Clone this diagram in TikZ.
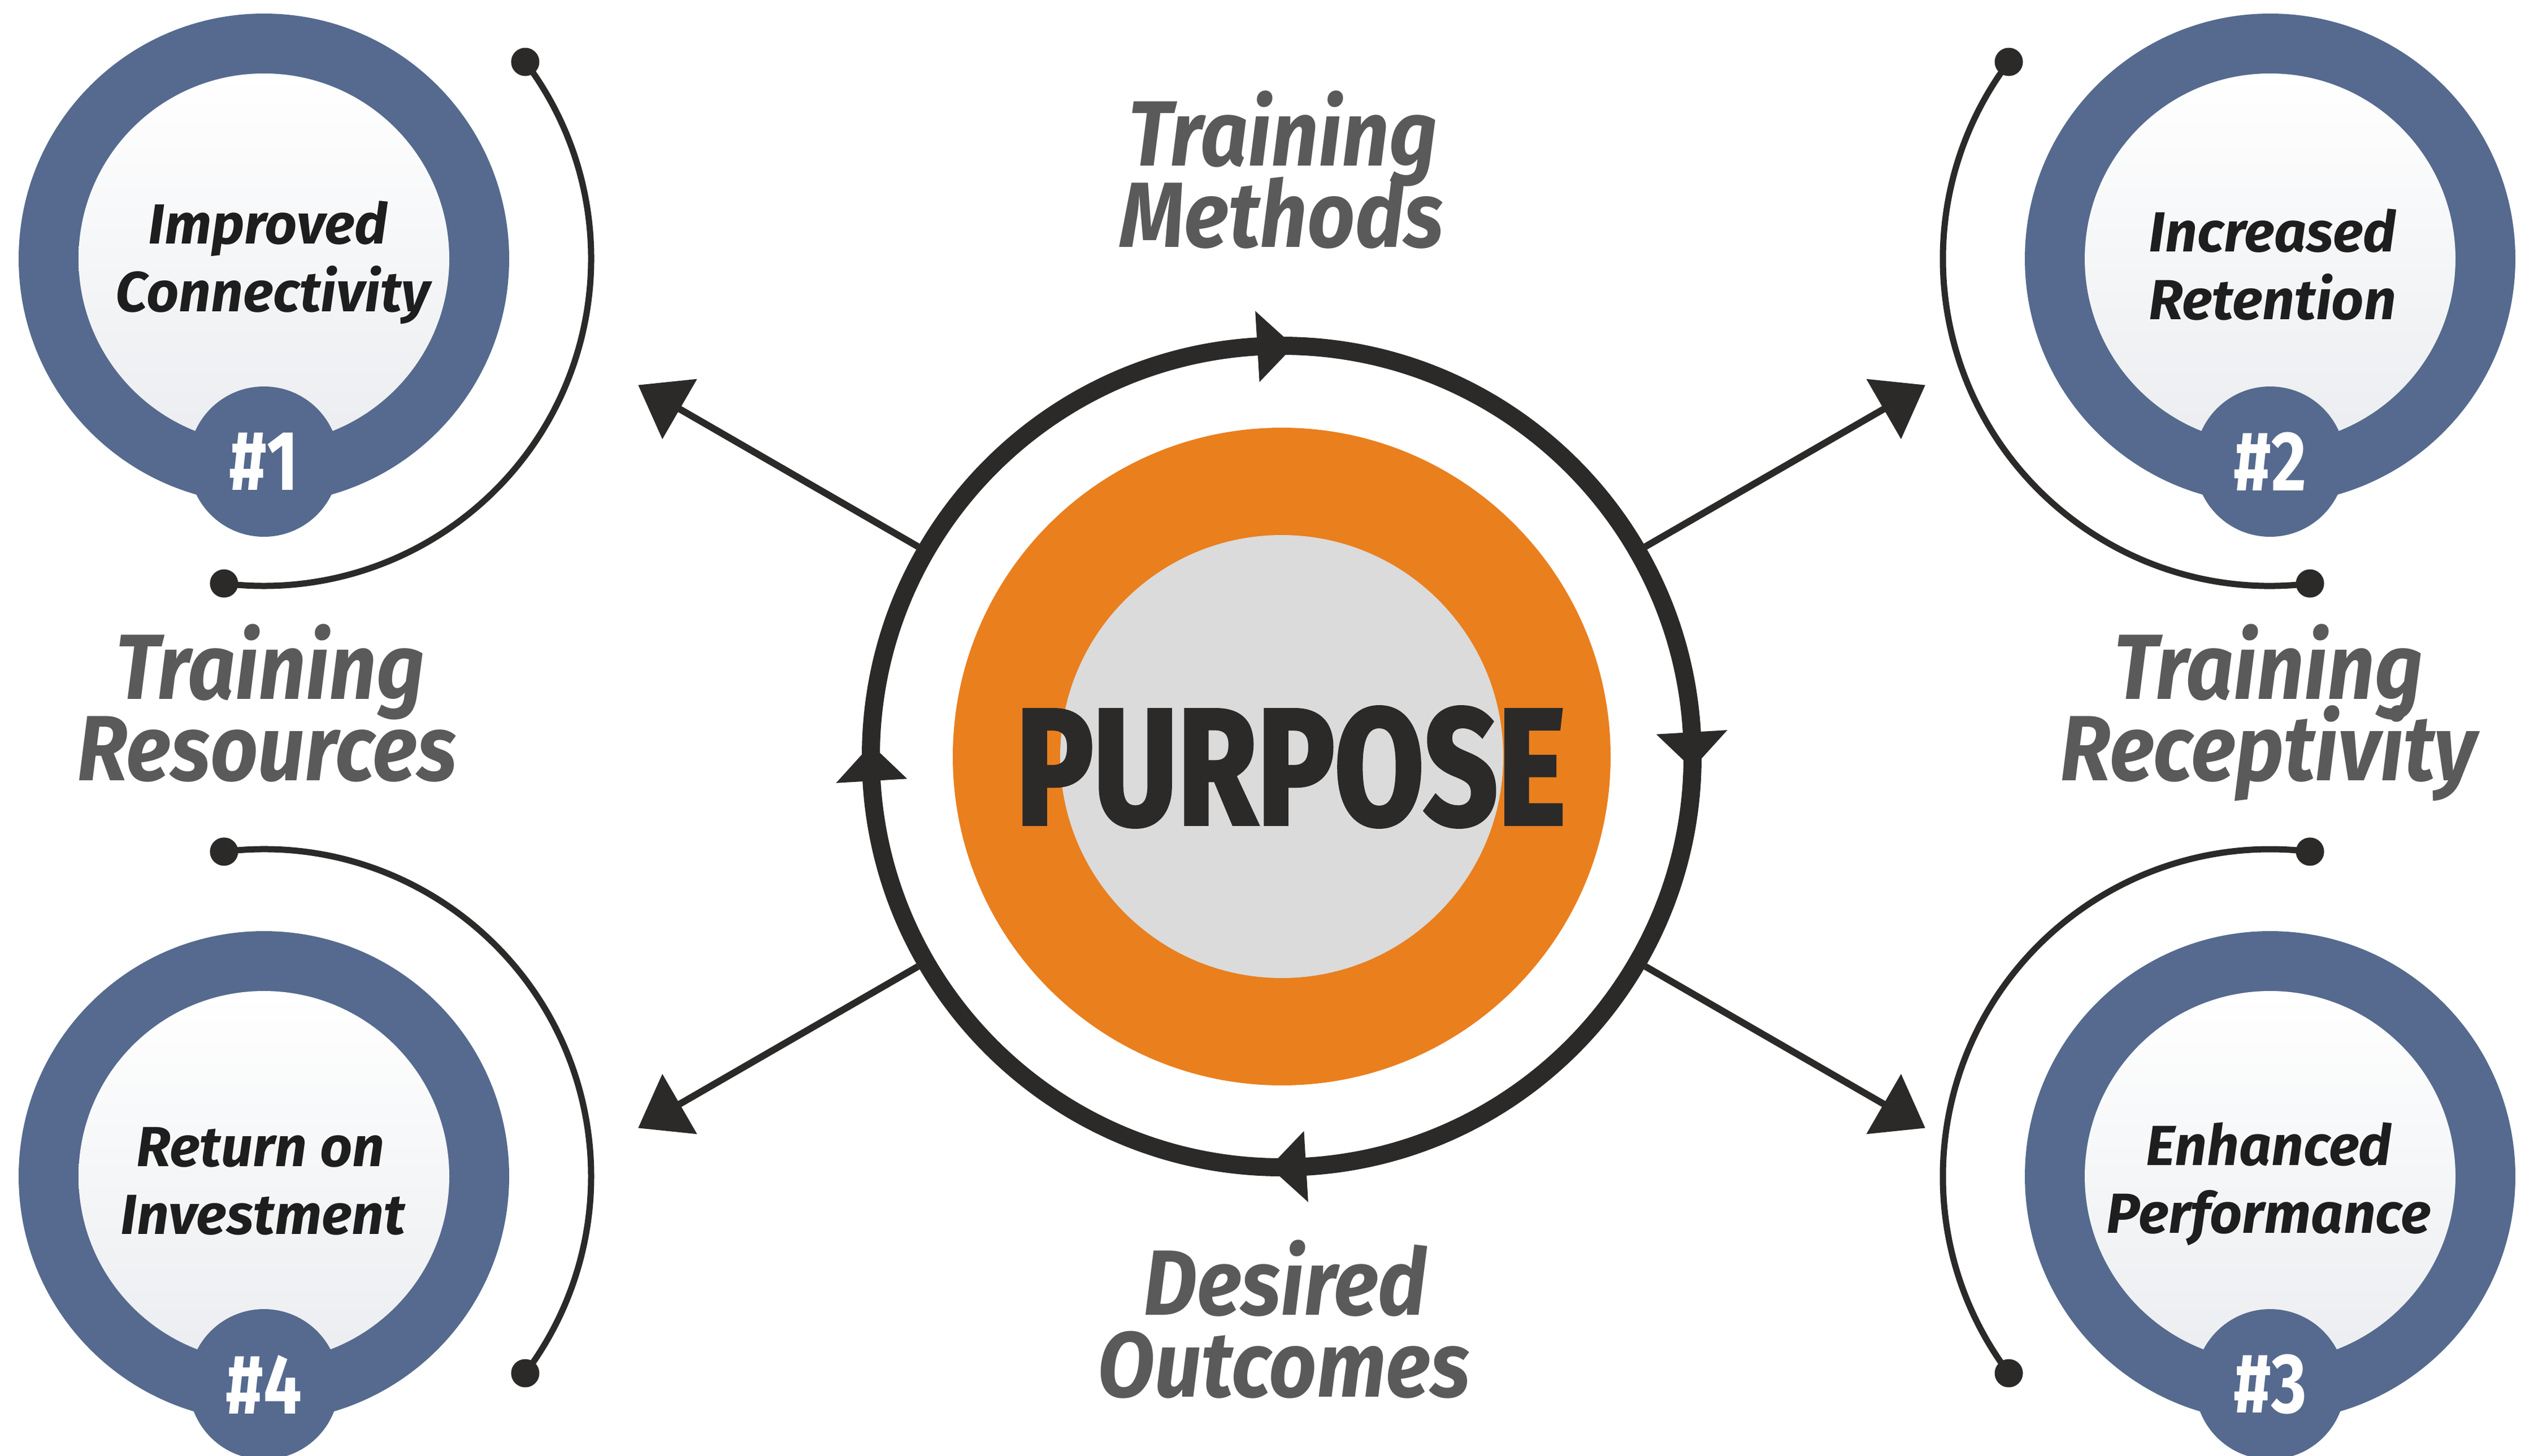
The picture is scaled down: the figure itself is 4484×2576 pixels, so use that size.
\documentclass[tikz,border=0pt]{standalone}
\usepackage{fontspec}
\setmainfont{Fira Sans}
\usetikzlibrary{arrows.meta,calc}
\newfontfamily\lblfamily{Fira Sans}[FakeStretch=0.9]
\newfontfamily\innfamily{Fira Sans}[FakeStretch=1.0]
\newfontfamily\headfamily{Fira Sans}[FakeStretch=0.8]
\newfontfamily\purpfamily{Fira Sans}[FakeStretch=0.78,FakeBold=2]
\newcommand\mysidefont{\lblfamily\fontsize{164}{164}\selectfont\bfseries\itshape}
\newcommand\myinnerfont{\innfamily\fontsize{100}{100}\selectfont\bfseries\itshape}
\newcommand\mybadgefont{\headfamily\fontsize{150}{150}\selectfont\bfseries}
\newcommand\mypurposefont{\purpfamily\fontsize{293}{293}\selectfont\bfseries}
\definecolor{ringblue}{RGB}{85,106,142}
\definecolor{purporange}{RGB}{234,127,30}
\definecolor{coregray}{RGB}{218,219,218}
\definecolor{inkdark}{RGB}{43,42,41}
\definecolor{labelgray}{RGB}{90,90,90}
\definecolor{innerink}{RGB}{30,30,30}
\definecolor{innerbot}{RGB}{235,237,240}
\tikzset{
 bluering/.style={circle, fill=ringblue, minimum size=868pt, inner sep=0pt},
 innerdisk/.style={circle, minimum size=656pt, inner sep=0pt, top color=white, bottom color=innerbot},
 badge/.style={circle, fill=ringblue, minimum size=266pt, inner sep=0pt, text=white, font=\mybadgefont},
 dotnode/.style={circle, fill=inkdark, minimum size=50pt, inner sep=0pt},
 arcline/.style={draw=inkdark, line width=11pt},
 conn/.style={draw=inkdark, line width=12pt, -{Triangle[length=85pt,width=120pt]}},
 sidelbl/.style={anchor=base, inner sep=0pt, text=labelgray, font=\mysidefont},
 innerlbl/.style={anchor=base, inner sep=0pt, text=innerink, font=\myinnerfont},
 ringhead/.style={fill=inkdark},
}
\begin{document}
\begin{tikzpicture}[x=1pt,y=-1pt]
\fill[white] (0,0) rectangle (4484,2576);
\useasboundingbox (0,0) rectangle (4484,2576);

% ---------- central purpose ----------
\coordinate (C) at (2268,1339);
\node[circle, fill=purporange, minimum size=1164pt, inner sep=0pt] (orange) at (C) {};
\node[circle, fill=coregray, minimum size=784pt, inner sep=0pt] (core) at (C) {};
\node[anchor=base, inner sep=0pt, text=inkdark, font=\mypurposefont] (purpose) at (2284,1459) {PURPOSE};
\node[circle, draw=inkdark, line width=32pt, minimum size=1454pt, inner sep=0pt] (ring) at (C) {};
% arrowheads on the ring (clockwise)
\fill[ringhead] ($(C)+(-88.3:727)$) -- ($(C)+(-93.4:790)$) -- ($(C)+(-93.4:664)$) -- cycle;
\fill[ringhead] ($(C)+(1.7:727)$) -- ($(C)+(-3.4:790)$) -- ($(C)+(-3.4:664)$) -- cycle;
\fill[ringhead] ($(C)+(91.7:727)$) -- ($(C)+(86.6:790)$) -- ($(C)+(86.6:664)$) -- cycle;
\fill[ringhead] ($(C)+(181.7:727)$) -- ($(C)+(176.6:790)$) -- ($(C)+(176.6:664)$) -- cycle;

% connectors
\coordinate (tipUL) at ($(C)+(210:1315)$);
\coordinate (tipUR) at ($(C)+(330:1315)$);
\coordinate (tipLL) at ($(C)+(150:1315)$);
\coordinate (tipLR) at ($(C)+(30:1315)$);
\draw[conn] (ring.150) -- (tipUL);
\draw[conn] (ring.30) -- (tipUR);
\draw[conn] (ring.210) -- (tipLL);
\draw[conn] (ring.330) -- (tipLR);

% side labels
\node[sidelbl] (tm1) at (2270,293) {Training};
\node[sidelbl] (tm2) at (2268,437) {Methods};
\node[sidelbl] (do1) at (2274,2327) {Desired};
\node[sidelbl] (do2) at (2272,2472) {Outcomes};
\node[sidelbl] (tr1) at (478,1237) {Training};
\node[sidelbl] (tr2) at (472,1381) {Resources};
\node[sidelbl] (tc1) at (4014,1237) {Training};
\node[sidelbl] (tc2) at (4014,1381) {Receptivity};

% ---------- item 1 (top left) ----------
\coordinate (c1) at (467,458);
\node[bluering] (o1) at (c1) {};
\node[innerdisk] (w1) at (c1) {};
\node[badge] (b1) at (467,817) {\#1};
\node[innerlbl] (l1a) at (474,431) {Improved};
\node[innerlbl] (l1b) at (483,551) {Connectivity};
\draw[arcline] ($(c1)+(-37:579)$) coordinate (a1s) arc (-37:97:579) coordinate (a1e);
\node[dotnode] (d1s) at (a1s) {};
\node[dotnode] (d1e) at (a1e) {};

% ---------- item 2 (top right) ----------
\coordinate (c2) at (4017,458);
\node[bluering] (o2) at (c2) {};
\node[innerdisk] (w2) at (c2) {};
\node[badge] (b2) at (4017,817) {\#2};
\node[innerlbl] (l2a) at (4021,445) {Increased};
\node[innerlbl] (l2b) at (4021,565) {Retention};
\draw[arcline] ($(c2)+(83:579)$) coordinate (a2s) arc (83:217:579) coordinate (a2e);
\node[dotnode] (d2s) at (a2s) {};
\node[dotnode] (d2e) at (a2e) {};

% ---------- item 4 (bottom left) ----------
\coordinate (c4) at (467,2082);
\node[bluering] (o4) at (c4) {};
\node[innerdisk] (w4) at (c4) {};
\node[badge] (b4) at (467,2450) {\#4};
\node[innerlbl] (l4a) at (461,2064) {Return on};
\node[innerlbl] (l4b) at (465,2184) {Investment};
\draw[arcline] ($(c4)+(-97:579)$) coordinate (a4s) arc (-97:37:579) coordinate (a4e);
\node[dotnode] (d4s) at (a4s) {};
\node[dotnode] (d4e) at (a4e) {};

% ---------- item 3 (bottom right) ----------
\coordinate (c3) at (4017,2082);
\node[bluering] (o3) at (c3) {};
\node[innerdisk] (w3) at (c3) {};
\node[badge] (b3) at (4017,2450) {\#3};
\node[innerlbl] (l3a) at (4015,2062) {Enhanced};
\node[innerlbl] (l3b) at (4015,2182) {Performance};
\draw[arcline] ($(c3)+(143:579)$) coordinate (a3s) arc (143:277:579) coordinate (a3e);
\node[dotnode] (d3s) at (a3s) {};
\node[dotnode] (d3e) at (a3e) {};
\end{tikzpicture}
\end{document}
